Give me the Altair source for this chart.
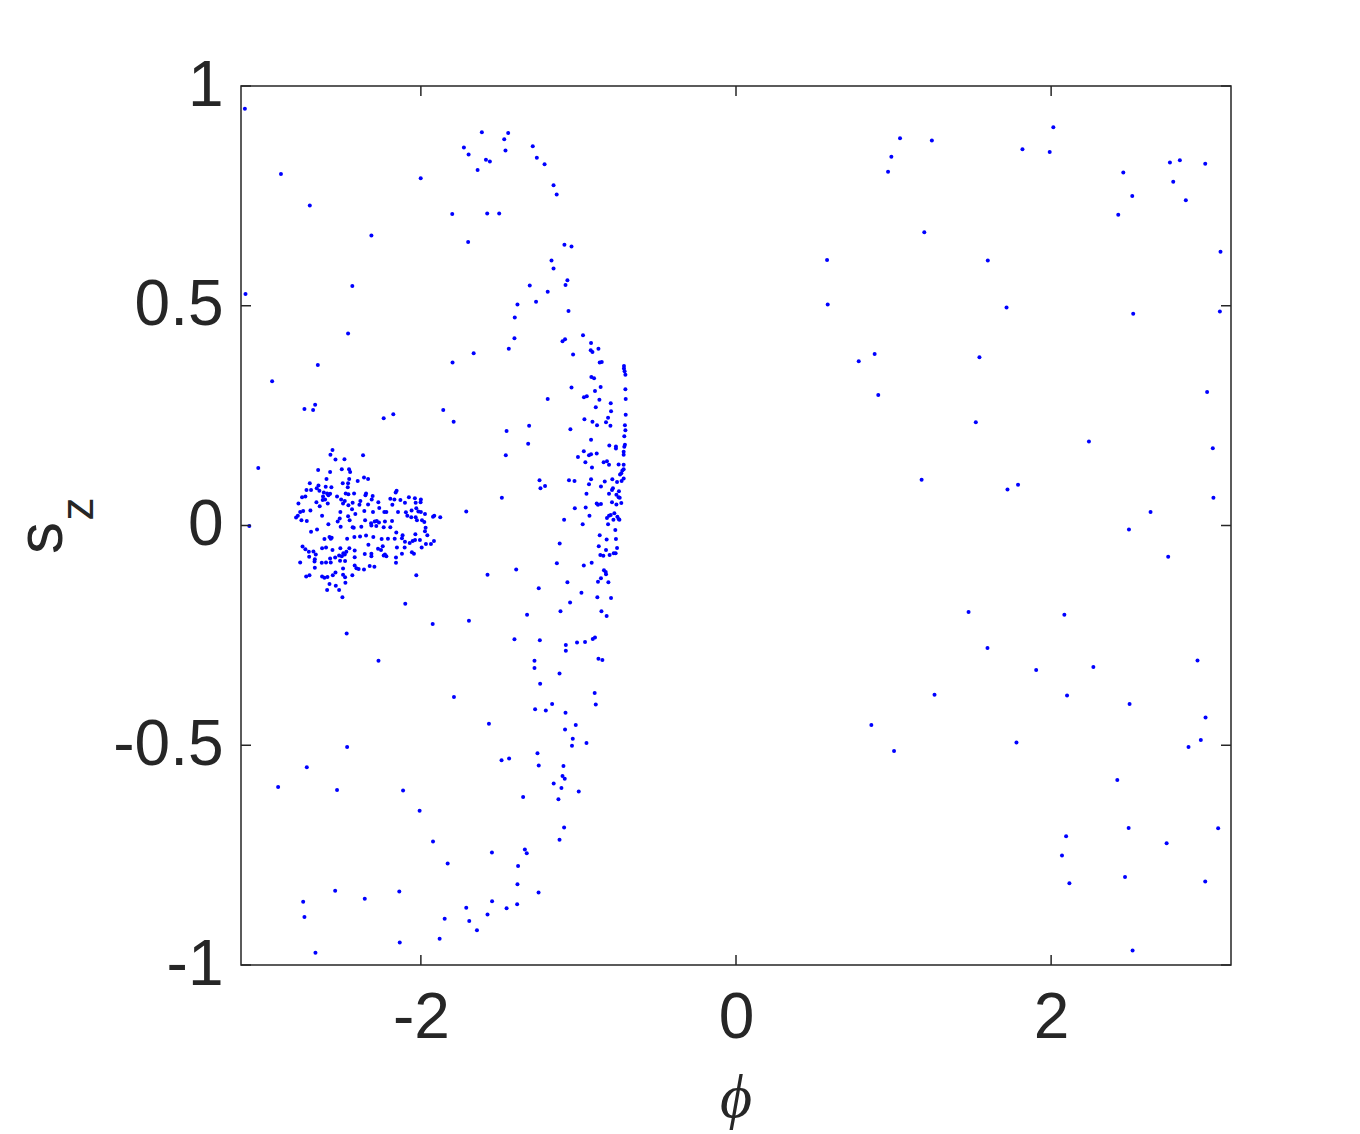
import math
import altair as alt
import pandas as pd

# ---- data (phi, s_z) ----
cluster = [
    (-2.561, 0.172), (-2.574, 0.161), (-2.542, 0.150), (-2.485, 0.151), (-2.367, 0.160),
    (-2.652, 0.126), (-2.576, 0.122), (-2.502, 0.128), (-2.456, 0.128), (-2.449, 0.122),
    (-2.599, 0.106), (-2.361, 0.109), (-2.335, 0.106), (-2.401, 0.101), (-2.455, 0.106),
    (-2.705, 0.096), (-2.650, 0.091), (-2.604, 0.088), (-2.496, 0.096), (-2.462, 0.096), (-2.464, 0.087),
    (-2.726, 0.081), (-2.697, 0.081), (-2.661, 0.085), (-2.644, 0.079), (-2.568, 0.087), (-2.595, 0.073), (-2.616, 0.075),
    (-2.733, 0.066), (-2.754, 0.064), (-2.621, 0.066), (-2.576, 0.072), (-2.532, 0.066), (-2.477, 0.073),
    (-2.460, 0.071), (-2.424, 0.073), (-2.348, 0.073), (-2.306, 0.067), (-2.154, 0.079), (-2.160, 0.075),
    (-2.777, 0.050), (-2.663, 0.053), (-2.623, 0.058), (-2.587, 0.069), (-2.608, 0.059), (-2.506, 0.059),
    (-2.483, 0.056), (-2.433, 0.052), (-2.384, 0.056), (-2.352, 0.069), (-2.312, 0.059), (-2.270, 0.053),
    (-2.335, 0.048), (-2.194, 0.061), (-2.168, 0.059), (-2.130, 0.058), (-2.076, 0.064), (-2.038, 0.062),
    (-2.000, 0.059), (-2.002, 0.053), (-2.033, 0.052), (-2.101, 0.052),
    (-2.747, 0.033), (-2.766, 0.031), (-2.701, 0.034), (-2.642, 0.044), (-2.591, 0.050), (-2.494, 0.050),
    (-2.460, 0.046), (-2.437, 0.037), (-2.390, 0.047), (-2.359, 0.033), (-2.304, 0.031), (-2.264, 0.040),
    (-2.232, 0.031), (-2.219, 0.031), (-2.181, 0.047), (-2.145, 0.031), (-2.095, 0.030), (-2.086, 0.022),
    (-2.059, 0.034), (-2.029, 0.039), (-2.016, 0.032), (-2.000, 0.031), (-1.974, 0.026), (-1.923, 0.020),
    (-1.915, 0.022), (-1.877, 0.019),
    (-2.781, 0.022), (-2.792, 0.018), (-2.758, 0.012), (-2.724, 0.010), (-2.627, 0.022), (-2.511, 0.031),
    (-2.515, 0.016), (-2.528, 0.009), (-2.462, 0.021), (-2.452, 0.012), (-2.416, 0.026), (-2.354, 0.012),
    (-2.316, 0.005), (-2.293, 0.009), (-2.280, 0.010), (-2.266, 0.007), (-2.228, 0.009), (-2.183, 0.010),
    (-2.061, 0.019), (-2.033, 0.019), (-2.025, 0.012), (-1.993, 0.012), (-1.978, 0.008), (-1.970, -0.005),
    (-2.697, -0.014), (-2.659, -0.009), (-2.587, 0.003), (-2.509, -0.003), (-2.433, -0.004), (-2.426, -0.005),
    (-2.378, -0.003), (-2.314, 0.000), (-2.283, -0.001), (-2.236, -0.004), (-2.194, -0.004), (-2.156, -0.016),
    (-2.116, -0.022), (-2.035, -0.020), (-1.959, -0.022), (-1.974, -0.013),
    (-2.612, -0.031), (-2.580, -0.026), (-2.566, -0.028), (-2.572, -0.030), (-2.468, -0.030), (-2.422, -0.026),
    (-2.386, -0.025), (-2.348, -0.023), (-2.302, -0.026), (-2.249, -0.031), (-2.209, -0.030), (-2.166, -0.030),
    (-2.120, -0.029), (-2.101, -0.037), (-2.071, -0.040), (-2.052, -0.035), (-2.037, -0.033), (-2.006, -0.033),
    (-1.917, -0.035), (-1.936, -0.042), (-1.968, -0.042),
    (-2.751, -0.048), (-2.733, -0.054), (-2.711, -0.060), (-2.682, -0.059), (-2.627, -0.052), (-2.602, -0.050),
    (-2.561, -0.056), (-2.511, -0.052), (-2.454, -0.052), (-2.473, -0.060), (-2.483, -0.066), (-2.420, -0.057),
    (-2.356, -0.065), (-2.333, -0.044), (-2.314, -0.064), (-2.272, -0.053), (-2.253, -0.056), (-2.242, -0.047),
    (-2.236, -0.068), (-2.219, -0.070), (-2.228, -0.066), (-2.152, -0.050), (-2.103, -0.050), (-2.120, -0.064),
    (-2.057, -0.061), (-2.044, -0.064), (-1.995, -0.050),
    (-2.709, -0.071), (-2.667, -0.066), (-2.673, -0.077), (-2.576, -0.075), (-2.544, -0.073), (-2.519, -0.068),
    (-2.502, -0.070), (-2.492, -0.063), (-2.420, -0.072), (-2.314, -0.070), (-2.158, -0.073),
    (-2.766, -0.084), (-2.675, -0.082), (-2.629, -0.085), (-2.602, -0.084), (-2.572, -0.084), (-2.513, -0.080),
    (-2.481, -0.081), (-2.420, -0.091), (-2.395, -0.099), (-2.361, -0.100), (-2.325, -0.092), (-2.295, -0.094),
    (-2.158, -0.085),
    (-2.673, -0.096), (-2.728, -0.116), (-2.707, -0.113), (-2.627, -0.116), (-2.612, -0.119), (-2.593, -0.117),
    (-2.559, -0.113), (-2.542, -0.107), (-2.494, -0.098), (-2.494, -0.112), (-2.481, -0.118), (-2.435, -0.113),
    (-2.409, -0.097), (-2.029, -0.113),
    (-2.580, -0.133), (-2.540, -0.137), (-2.595, -0.147), (-2.519, -0.147), (-2.479, -0.130), (-2.498, -0.163),
    (-2.099, -0.178),
    (-3.032, 0.131), (-3.089, -0.001),
]

arc = [
    (-1.089, 0.639), (-1.044, 0.635), (-1.171, 0.603), (-1.158, 0.585), (-1.070, 0.558), (-1.082, 0.547),
    (-1.195, 0.532), (-1.269, 0.509), (-1.063, 0.488), (-0.971, 0.433), (-1.101, 0.419), (-1.085, 0.424),
    (-0.920, 0.415), (-0.922, 0.399), (-0.911, 0.395), (-0.873, 0.402), (-1.034, 0.389), (-0.865, 0.371),
    (-0.852, 0.372), (-0.711, 0.363), (-0.711, 0.357), (-0.707, 0.351), (-0.702, 0.343), (-0.918, 0.338),
    (-0.901, 0.335), (-1.044, 0.314), (-0.859, 0.315), (-0.895, 0.306), (-0.702, 0.310), (-1.195, 0.288),
    (-0.965, 0.292), (-0.947, 0.294), (-0.867, 0.286), (-0.700, 0.288), (-0.795, 0.278), (-0.890, 0.269),
    (-0.793, 0.260), (-0.700, 0.252), (-0.812, 0.245), (-0.962, 0.242),
    (-0.911, 0.236), (-0.882, 0.228), (-0.825, 0.235), (-0.797, 0.227), (-0.705, 0.228), (-0.702, 0.217),
    (-1.051, 0.219), (-0.709, 0.203), (-0.920, 0.195), (-0.804, 0.182), (-0.762, 0.180), (-0.762, 0.175),
    (-0.705, 0.184), (-0.709, 0.179), (-0.713, 0.168), (-0.713, 0.161), (-0.966, 0.169), (-0.933, 0.160),
    (-0.920, 0.162), (-0.884, 0.164), (-1.003, 0.156), (-0.956, 0.144), (-0.840, 0.144), (-0.819, 0.146),
    (-0.806, 0.138), (-0.745, 0.139), (-0.713, 0.138), (-0.914, 0.132), (-0.713, 0.128), (-0.721, 0.125),
    (-0.728, 0.119), (-0.736, 0.116), (-0.713, 0.107), (-0.726, 0.101), (-1.247, 0.103), (-1.241, 0.085),
    (-1.212, 0.090), (-1.060, 0.103), (-1.025, 0.101), (-0.920, 0.105), (-0.933, 0.094), (-0.833, 0.100),
    (-0.785, 0.105), (-0.755, 0.099), (-0.857, 0.089), (-0.781, 0.085), (-0.787, 0.081), (-0.743, 0.078),
    (-0.949, 0.072), (-0.806, 0.072), (-0.759, 0.070), (-0.745, 0.064), (-0.738, 0.063), (-0.787, 0.053),
    (-0.759, 0.048), (-0.728, 0.051), (-0.884, 0.050), (-0.876, 0.047), (-0.857, 0.049), (-1.023, 0.039),
    (-0.954, 0.041), (-0.819, 0.017), (-0.806, 0.022), (-0.795, 0.024), (-0.772, 0.028), (-0.778, 0.013),
    (-0.753, 0.020), (-0.745, 0.015), (-0.740, 0.013), (-0.930, 0.022), (-1.091, 0.013), (-0.973, 0.003),
    (-0.812, 0.003), (-0.766, -0.010), (-0.865, -0.022), (-0.821, -0.032), (-0.762, -0.031), (-1.119, -0.041),
    (-0.871, -0.047), (-0.755, -0.051), (-0.825, -0.056), (-0.861, -0.067), (-0.842, -0.069), (-0.802, -0.067),
    (-0.776, -0.063), (-0.764, -0.063), (-1.137, -0.086), (-0.966, -0.091), (-0.916, -0.085), (-0.838, -0.102),
    (-0.827, -0.106), (-0.825, -0.111), (-0.857, -0.120), (-0.876, -0.128), (-0.810, -0.129), (-1.070, -0.129),
    (-1.252, -0.143), (-0.981, -0.153), (-0.880, -0.163), (-0.793, -0.165),
    (-1.053, -0.175), (-1.114, -0.195), (-0.854, -0.195), (-0.821, -0.206), (-1.245, -0.261), (-1.080, -0.272),
    (-1.080, -0.285), (-1.009, -0.266), (-0.958, -0.265), (-0.909, -0.258), (-0.895, -0.255), (-1.279, -0.308),
    (-1.279, -0.324), (-0.873, -0.303), (-0.848, -0.306), (-1.120, -0.337), (-1.243, -0.360), (-0.897, -0.381),
    (-0.890, -0.407), (-1.275, -0.418), (-1.207, -0.421), (-1.167, -0.406), (-1.082, -0.426), (-1.017, -0.454),
    (-1.085, -0.464), (-1.036, -0.485), (-1.041, -0.501), (-0.949, -0.495), (-1.260, -0.518), (-1.252, -0.546),
    (-1.095, -0.547), (-1.101, -0.570), (-1.087, -0.576), (-1.157, -0.587), (-1.108, -0.597), (-0.998, -0.605),
    (-1.127, -0.623), (-1.091, -0.687), (-1.120, -0.715),
]

outer_left = [
    (-3.117, 0.948), (-2.888, 0.800), (-2.705, 0.728), (-2.001, 0.790), (-2.314, 0.660), (-2.435, 0.545),
    (-3.113, 0.527), (-2.462, 0.437), (-2.654, 0.365), (-2.944, 0.328), (-2.739, 0.265), (-2.684, 0.263),
    (-2.671, 0.275), (-2.236, 0.244), (-2.175, 0.253),
    (-1.801, 0.709), (-1.727, 0.860), (-1.697, 0.844), (-1.613, 0.895), (-1.587, 0.832), (-1.562, 0.828),
    (-1.640, 0.809), (-1.471, 0.879), (-1.446, 0.893), (-1.463, 0.853), (-1.579, 0.710), (-1.503, 0.710),
    (-1.700, 0.645),
    (-1.290, 0.863), (-1.264, 0.837), (-1.215, 0.822), (-1.158, 0.774), (-1.138, 0.753),
    (-1.309, 0.546), (-1.387, 0.503), (-1.404, 0.473), (-1.406, 0.426), (-1.442, 0.402), (-1.665, 0.392),
    (-1.799, 0.371), (-1.858, 0.263), (-1.792, 0.236), (-1.456, 0.215), (-1.313, 0.227), (-1.319, 0.186),
    (-1.461, 0.160), (-1.486, 0.063), (-1.712, 0.032), (-1.395, -0.100), (-1.577, -0.112), (-1.326, -0.203),
    (-1.925, -0.224), (-1.695, -0.217), (-1.406, -0.259), (-1.790, -0.390), (-1.568, -0.451), (-1.488, -0.534),
    (-1.440, -0.530), (-1.351, -0.618),
    (-2.471, -0.246), (-2.269, -0.308), (-2.468, -0.504), (-2.724, -0.550), (-2.906, -0.595), (-2.532, -0.602),
    (-2.113, -0.603), (-2.008, -0.649), (-2.544, -0.831), (-2.747, -0.856), (-2.739, -0.891), (-2.356, -0.849),
    (-2.137, -0.833), (-2.134, -0.949), (-2.669, -0.972),
    (-1.923, -0.719), (-1.830, -0.769), (-1.549, -0.744), (-1.340, -0.737), (-1.328, -0.746), (-1.383, -0.775),
    (-1.387, -0.816), (-1.253, -0.835), (-1.548, -0.855), (-1.712, -0.870), (-1.456, -0.871), (-1.389, -0.862),
    (-1.577, -0.885), (-1.849, -0.895), (-1.693, -0.900), (-1.644, -0.921), (-1.881, -0.940),
]

right_side = [
    (2.014, 0.906), (1.041, 0.881), (1.243, 0.876), (0.986, 0.839), (0.965, 0.805), (1.818, 0.856),
    (1.991, 0.850), (2.458, 0.803), (2.515, 0.750), (2.426, 0.707), (2.754, 0.826), (2.817, 0.831),
    (2.775, 0.782), (2.855, 0.740), (2.978, 0.823), (1.195, 0.667), (0.578, 0.604), (1.598, 0.603),
    (3.075, 0.623), (0.582, 0.503), (1.717, 0.496), (2.521, 0.482), (3.071, 0.487), (0.880, 0.390),
    (0.779, 0.374), (1.545, 0.383), (0.903, 0.297), (2.990, 0.304), (1.522, 0.235), (2.240, 0.191),
    (3.026, 0.176), (1.178, 0.104), (1.723, 0.082), (1.790, 0.093), (3.030, 0.063), (2.631, 0.031),
    (2.494, -0.009), (2.743, -0.071), (1.476, -0.197), (2.084, -0.203), (1.596, -0.279), (1.905, -0.329),
    (2.268, -0.322), (2.929, -0.307), (1.260, -0.385), (2.101, -0.387), (2.498, -0.406), (2.980, -0.437),
    (2.950, -0.488), (2.872, -0.504), (0.859, -0.454), (1.003, -0.513), (1.780, -0.494), (2.420, -0.579),
    (2.492, -0.688), (3.060, -0.689), (2.095, -0.707), (2.733, -0.723), (2.069, -0.751), (2.469, -0.800),
    (2.116, -0.814), (2.978, -0.810), (2.517, -0.967),
]

x_ticks = [-2, 0, 2]
y_ticks = [-1, -0.5, 0, 0.5, 1]
x_domain = [-math.pi, math.pi]
y_domain = [-1, 1]

# ---- chart ----
df = pd.DataFrame(cluster + arc + outer_left + right_side, columns=["phi", "sz"])
xt = pd.DataFrame({"phi": x_ticks})
yt = pd.DataFrame({"sz": y_ticks})
one = pd.DataFrame({"a": [0]})

W, H = 990, 879
AX = "#262626"
TL = 10
FS = 64

xs = alt.Scale(domain=x_domain, nice=False, zero=False)
ys = alt.Scale(domain=y_domain, nice=False, zero=False)
lab = "datum.value + ''"

x_axis = alt.Axis(values=x_ticks, title=None, grid=False, domain=False, ticks=False,
                  labelExpr=lab, labelFont="Liberation Sans", labelFontSize=FS,
                  labelColor=AX, labelPadding=21, labelFlush=False, labelOverlap=False)
y_axis = alt.Axis(values=y_ticks, title=None, grid=False, domain=False, ticks=False,
                  labelExpr=lab, labelFont="Liberation Sans", labelFontSize=FS,
                  labelColor=AX, labelPadding=18, labelFlush=False, labelOverlap=False)

X = alt.X("phi:Q", scale=xs, axis=x_axis)
Y = alt.Y("sz:Q", scale=ys, axis=y_axis)

points = alt.Chart(df).mark_circle(size=16, color="#0000ff", opacity=1).encode(x=X, y=Y)

rk = dict(color=AX, strokeWidth=1.5)
xb = alt.Chart(xt).mark_rule(**rk).encode(x=X, y=alt.value(H), y2=alt.value(H - TL))
xtop = alt.Chart(xt).mark_rule(**rk).encode(x=X, y=alt.value(0), y2=alt.value(TL))
yl = alt.Chart(yt).mark_rule(**rk).encode(y=Y, x=alt.value(0), x2=alt.value(TL))
yr = alt.Chart(yt).mark_rule(**rk).encode(y=Y, x=alt.value(W), x2=alt.value(W - TL))

s_txt = alt.Chart(one).mark_text(
    text="s", font="Liberation Sans", fontSize=FS, angle=270, align="center",
    baseline="alphabetic", color=AX).encode(x=alt.value(-179), y=alt.value(452))
z_txt = alt.Chart(one).mark_text(
    text="z", font="Liberation Sans", fontSize=46, angle=270, align="center",
    baseline="alphabetic", color=AX).encode(x=alt.value(-148), y=alt.value(423))
phi_txt = alt.Chart(one).mark_text(
    text="\u03d5", font="Liberation Serif, DejaVu Serif", fontStyle="italic", fontSize=62,
    align="center", baseline="alphabetic", color=AX).encode(x=alt.value(W / 2), y=alt.value(1031))

chart = alt.layer(points, xb, xtop, yl, yr, s_txt, z_txt, phi_txt).properties(
    width=W, height=H,
    padding={"left": 233, "top": 78, "right": 100, "bottom": 168},
    autosize="none",
    background="white",
).configure_view(stroke=AX, strokeWidth=1.5)

chart.save("out.html", embed_options={"renderer": "svg", "actions": False})
